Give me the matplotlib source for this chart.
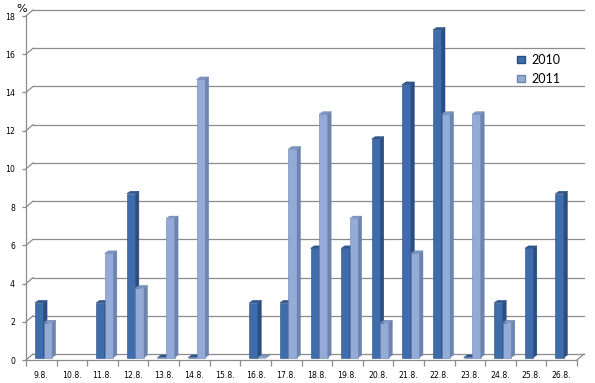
import matplotlib.pyplot as plt
import numpy as np
from matplotlib.patches import Polygon, Patch

# data (percent per day)
days = ["9.8.", "10.8.", "11.8.", "12.8.", "13.8.", "14.8.", "15.8.", "16.8.", "17.8.",
        "18.8.", "19.8.", "20.8.", "21.8.", "22.8.", "23.8.", "24.8.", "25.8.", "26.8."]
nan = np.nan
y2010 = [2.86, nan, 2.86, 8.57, 0, 0, nan, 2.86, 2.86,
         5.71, 5.71, 11.43, 14.29, 17.14, 0, 2.86, 5.71, 8.57]
y2011 = [1.82, nan, 5.45, 3.64, 7.27, 14.55, nan, 0, 10.91,
         12.73, 7.27, 1.82, 5.45, 12.73, 12.73, 1.82, nan, nan]
yticks = [0, 2, 4, 6, 8, 10, 12, 14, 16, 18]

# colours: front, side, top
c2010 = ("#3f6cab", "#2b4e82", "#2f5690")
c2011 = ("#95abd7", "#6c84ae", "#7c95c3")
grid_col = "#8c8c8c"

W, H = 595, 383
fig = plt.figure(figsize=(W / 100, H / 100), dpi=100)
ax = fig.add_axes([26 / W, 23 / H, 551 / W, 344 / H])
n = len(days)
ax.set_xlim(0, n)
ax.set_ylim(0, 18)

# data units per pixel
ux = n / 551
uy = 18 / 344

# back wall offset / bar plane offset / bar depth (pixels)
wall_dx, wall_dy = 7, 6
plane_dx, plane_dy = 3.5, 2.5
depth_dx, depth_dy = 3.5, 2.5

# back wall gridlines and left wall diagonals
for t in yticks:
    ax.plot([wall_dx * ux, n + wall_dx * ux], [t + wall_dy * uy] * 2,
            color=grid_col, lw=0.9, zorder=1, clip_on=False)
    ax.plot([0, wall_dx * ux], [t, t + wall_dy * uy],
            color=grid_col, lw=0.9, zorder=1, clip_on=False)
# floor right edge
ax.plot([n, n + wall_dx * ux], [0, wall_dy * uy], color=grid_col, lw=0.9,
        zorder=1, clip_on=False)

bw = 0.28
offs = [0.18, 0.46]
z = 3
for i in range(n):
    for k, (vals, cols) in enumerate([(y2010, c2010), (y2011, c2011)]):
        h = vals[i]
        if np.isnan(h):
            continue
        x0 = i + offs[k] + plane_dx * ux
        x1 = x0 + bw
        b = plane_dy * uy
        top = b + h
        ddx, ddy = depth_dx * ux, depth_dy * uy
        # front
        ax.bar(x0, h, width=bw, bottom=b, align="edge", color=cols[0],
               edgecolor=cols[1], linewidth=0.4, zorder=z)
        # side
        ax.add_patch(Polygon([(x1, b), (x1, top), (x1 + ddx, top + ddy), (x1 + ddx, b + ddy)],
                             closed=True, facecolor=cols[1], edgecolor=cols[1],
                             linewidth=0.3, zorder=z))
        # top
        ax.add_patch(Polygon([(x0, top), (x1, top), (x1 + ddx, top + ddy), (x0 + ddx, top + ddy)],
                             closed=True, facecolor=cols[2], edgecolor=cols[1],
                             linewidth=0.3, zorder=z))
        z += 1

# axes styling
for s in ["top", "right"]:
    ax.spines[s].set_visible(False)
for s in ["left", "bottom"]:
    ax.spines[s].set_color(grid_col)
    ax.spines[s].set_linewidth(0.9)

ax.set_yticks(yticks)
ax.set_yticklabels([str(t) for t in yticks])
ax.set_xticks(np.arange(n) + 0.5)
ax.set_xticklabels(days)
ax.set_xticks(np.arange(n + 1), minor=True)
ax.tick_params(axis="x", which="major", length=0, pad=8)
ax.tick_params(axis="x", which="minor", length=4, color=grid_col, width=0.9)
ax.tick_params(axis="y", length=3, color=grid_col, width=0.9, pad=5)
for lab in ax.get_xticklabels() + ax.get_yticklabels():
    lab.set_fontfamily("DejaVu Sans")
    lab.set_fontsize(5.6)

fig.text(22 / W, 1 - 9 / H, "%", fontsize=8, family="DejaVu Sans",
         ha="center", va="center")

handles = [Patch(facecolor=c2010[0], edgecolor=c2010[1], label="2010"),
           Patch(facecolor=c2011[0], edgecolor=c2011[1], label="2011")]
fig.legend(handles=handles, loc="upper left", bbox_to_anchor=(511 / W, 1 - 48 / H),
           frameon=False, prop={"family": "Lato", "size": 9},
           handlelength=0.65, handleheight=0.45, handletextpad=0.45,
           labelspacing=0.55, borderpad=0)

fig.savefig("out.png", dpi=100)
